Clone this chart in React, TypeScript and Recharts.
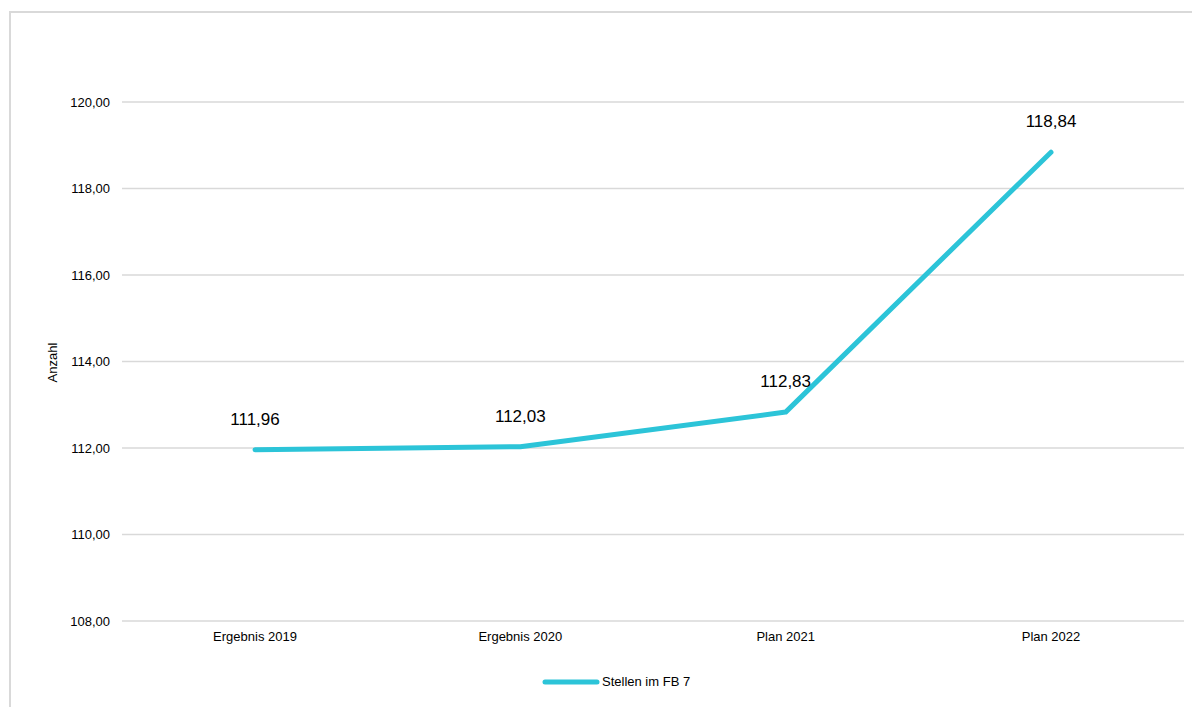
import React from 'react';
import { LineChart, Line, XAxis, YAxis, CartesianGrid, Legend, LabelList } from 'recharts';

const categories = ['Ergebnis 2019', 'Ergebnis 2020', 'Plan 2021', 'Plan 2022'];
const stellen = [111.96, 112.03, 112.83, 118.84];
const yTicks = [108, 110, 112, 114, 116, 118, 120];
const seriesName = 'Stellen im FB 7';
const yAxisTitle = 'Anzahl';

const data = categories.map((c, i) => ({ name: c, value: stellen[i] }));

const LINE_COLOR = '#2CC4D8';
const GRID = '#d9d9d9';
const FONT = '"Liberation Sans", Arial, sans-serif';

const fmt = (v: number) => v.toFixed(2).replace('.', ',');

const renderLegend = () => (
  <div style={{ display: 'flex', alignItems: 'center', fontFamily: FONT, fontSize: 13, color: '#000' }}>
    <svg width={58} height={8} style={{ display: 'block' }}>
      <line x1={3} y1={4} x2={55} y2={4} stroke={LINE_COLOR} strokeWidth={5} strokeLinecap="round" />
    </svg>
    <span style={{ marginLeft: 2 }}>{seriesName}</span>
  </div>
);

export default function App() {
  return (
    <div style={{ position: 'relative', width: 1192, height: 699, overflow: 'hidden', background: '#fff' }}>
      <div
        style={{
          position: 'absolute',
          left: 1,
          top: 3,
          width: 1300,
          height: 800,
          border: `2px solid ${GRID}`,
          boxSizing: 'border-box',
        }}
      />
      <div style={{ position: 'absolute', left: 0, top: 0 }}>
        <LineChart
          width={1192}
          height={699}
          data={data}
          margin={{ top: 94, right: 16, bottom: 33, left: 54 }}
        >
          <CartesianGrid horizontal vertical={false} stroke={GRID} strokeWidth={1.5} />
          <XAxis
            dataKey="name"
            axisLine={false}
            tickLine={false}
            tickSize={0}
            tickMargin={11}
            height={38}
            tick={{ fontFamily: FONT, fontSize: 13, fill: '#000' }}
            padding={{ left: 133, right: 133 }}
            interval={0}
          />
          <YAxis
            domain={[108, 120]}
            ticks={yTicks}
            width={60}
            axisLine={false}
            tickLine={false}
            tickSize={0}
            tickMargin={12}
            tickFormatter={(v: number) => fmt(v)}
            tick={{ fontFamily: FONT, fontSize: 13, fill: '#000' }}
            label={{
              content: (props: any) => {
                const vb = props.viewBox || { x: 54, y: 94, width: 60, height: 518 };
                const cx = vb.x - 9.5;
                const cy = vb.y + vb.height / 2 + 1;
                return (
                  <text
                    x={cx}
                    y={cy}
                    transform={`rotate(-90 ${cx} ${cy})`}
                    textAnchor="middle"
                    dominantBaseline="central"
                    fontFamily={FONT}
                    fontSize={13}
                    fill="#000"
                  >
                    {yAxisTitle}
                  </text>
                );
              },
            }}
          />
          <Legend
            content={renderLegend}
            wrapperStyle={{ position: 'absolute', top: 666, left: 534, width: 'auto' }}
          />
          <Line
            type="linear"
            dataKey="value"
            name={seriesName}
            stroke={LINE_COLOR}
            strokeWidth={5}
            strokeLinecap="round"
            strokeLinejoin="round"
            dot={false}
            activeDot={false}
            isAnimationActive={false}
          >
            <LabelList
              dataKey="value"
              position="top"
              offset={25}
              formatter={(v: any) => fmt(Number(v))}
              style={{ fontFamily: FONT, fontSize: 17, fill: '#000' }}
            />
          </Line>
        </LineChart>
      </div>
    </div>
  );
}
